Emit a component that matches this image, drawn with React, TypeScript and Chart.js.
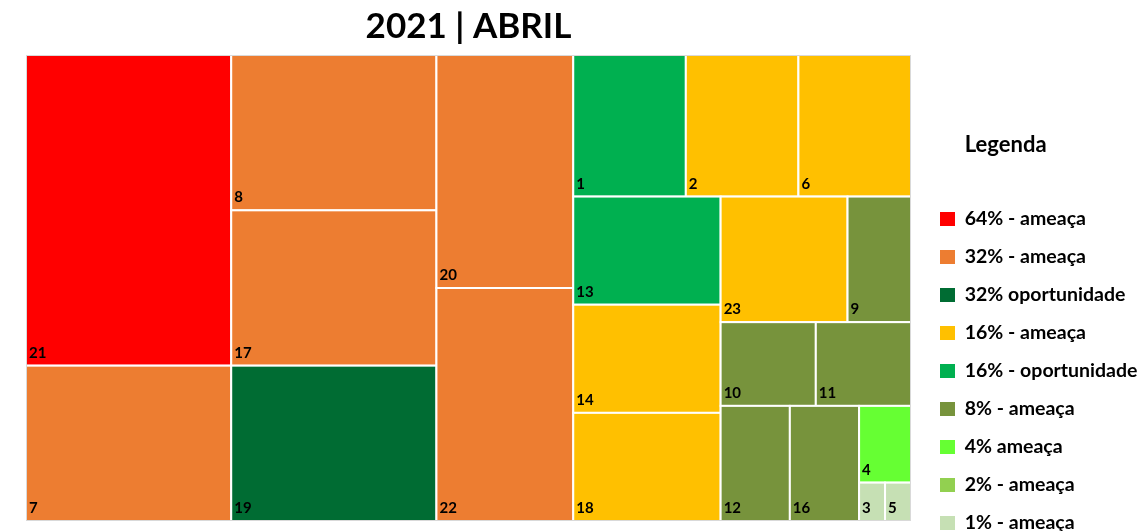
import React, { useEffect, useRef } from 'react';
import { Chart, registerables } from 'chart.js';

Chart.register(...registerables);

// ---------- data ----------
const chartTitle = '2021 | ABRIL';
const legendTitle = 'Legenda';

const categoryLabels = [
  '64% - ameaça',
  '32% - ameaça',
  '32% oportunidade',
  '16% - ameaça',
  '16% - oportunidade',
  '8% - ameaça',
  '4% ameaça',
  '2% - ameaça',
  '1% - ameaça',
];
const categoryColors = [
  '#FF0000',
  '#ED7D31',
  '#006C33',
  '#FFC000',
  '#00B050',
  '#77933C',
  '#66FF33',
  '#92D050',
  '#C6E0B4',
];

const itemLabels = ['1', '2', '3', '4', '5', '6', '7', '8', '9', '10', '11', '12', '13', '14', '16', '17', '18', '19', '20', '21', '22', '23'];
const itemValues = [16, 16, 1, 4, 1, 16, 32, 32, 8, 8, 8, 8, 16, 16, 8, 32, 16, 32, 32, 64, 32, 16];
const itemCategory = [4, 3, 8, 6, 8, 3, 1, 1, 5, 5, 5, 5, 4, 3, 5, 1, 3, 2, 1, 0, 1, 3];

// ---------- squarified layout (normalised to 0..1 for both axes) ----------
type Cell = { i: number; x: number; y: number; w: number; h: number };

function worst(row: number[], side: number): number {
  const s = row.reduce((a, b) => a + b, 0);
  const mx = Math.max(...row);
  const mn = Math.min(...row);
  return Math.max((side * side * mx) / (s * s), (s * s) / (side * side * mn));
}

function squarify(aspect: number): Cell[] {
  const order = itemValues
    .map((v, i) => i)
    .sort((a, b) => itemValues[b] - itemValues[a] || Number(itemLabels[a]) - Number(itemLabels[b]));
  const total = itemValues.reduce((a, b) => a + b, 0);
  let x = 0, y = 0, w = aspect, h = 1;
  const areas = order.map((i) => (itemValues[i] / total) * aspect);
  const out: Cell[] = [];
  let k = 0;
  while (k < order.length) {
    const side = Math.min(w, h);
    let row = [areas[k]];
    let j = k + 1;
    while (j < order.length) {
      const next = [...row, areas[j]];
      if (worst(next, side) <= worst(row, side)) {
        row = next;
        j++;
      } else break;
    }
    const sum = row.reduce((a, b) => a + b, 0);
    if (w >= h) {
      const cw = sum / h;
      let cy = y;
      row.forEach((a, n) => {
        const rh = a / cw;
        out.push({ i: order[k + n], x, y: cy, w: cw, h: rh });
        cy += rh;
      });
      x += cw;
      w -= cw;
    } else {
      const rh = sum / w;
      let cx = x;
      row.forEach((a, n) => {
        const rw = a / rh;
        out.push({ i: order[k + n], x: cx, y, w: rw, h: rh });
        cx += rw;
      });
      y += rh;
      h -= rh;
    }
    k = j;
  }
  return out.map((c) => ({ i: c.i, x: c.x / aspect, y: c.y, w: c.w / aspect, h: c.h }));
}

const FONT = 'Lato';

const treemapPlugin = {
  id: 'treemapCells',
  afterDatasetsDraw(chart: any) {
    const { ctx, chartArea, scales } = chart;
    const xs = scales.x;
    const ys = scales.y;
    const aspect = chartArea.width / chartArea.height;
    const cells = squarify(aspect);
    ctx.save();
    cells.forEach((c) => {
      const x0 = xs.getPixelForValue(c.x);
      const x1 = xs.getPixelForValue(c.x + c.w);
      const y0 = ys.getPixelForValue(c.y);
      const y1 = ys.getPixelForValue(c.y + c.h);
      const left = Math.min(x0, x1);
      const top = Math.min(y0, y1);
      const w = Math.abs(x1 - x0);
      const h = Math.abs(y1 - y0);
      ctx.fillStyle = categoryColors[itemCategory[c.i]];
      ctx.fillRect(left, top, w, h);
      ctx.strokeStyle = '#ffffff';
      ctx.lineWidth = 2;
      ctx.strokeRect(left, top, w, h);
      ctx.fillStyle = '#000000';
      ctx.font = `bold 15px ${FONT}`;
      ctx.textAlign = 'left';
      ctx.textBaseline = 'alphabetic';
      ctx.fillText(itemLabels[c.i], left + 3, top + h - 8);
    });
    ctx.strokeStyle = '#d9d9d9';
    ctx.lineWidth = 1;
    ctx.strokeRect(chartArea.left + 0.5, chartArea.top + 0.5, chartArea.width - 1, chartArea.height - 1);
    ctx.restore();
  },
  afterDraw(chart: any) {
    const lg = chart.legend;
    if (!lg) return;
    const lo = lg.options;
    const ctx = chart.ctx;
    const x = lg.left + lo.labels.padding + lo.labels.boxWidth + lo.labels.font.size / 2;
    const y = lg.top + lo.title.padding.top + (lo.title.font.size * 1.2) / 2;
    ctx.save();
    ctx.fillStyle = '#000000';
    ctx.font = `bold ${lo.title.font.size}px ${FONT}`;
    ctx.textAlign = 'left';
    ctx.textBaseline = 'middle';
    ctx.fillText(legendTitle, x, y);
    ctx.restore();
  },
};

export default function App() {
  const ref = useRef<HTMLCanvasElement | null>(null);
  useEffect(() => {
    if (!ref.current) return;
    const chart = new Chart(ref.current, {
      type: 'scatter',
      data: { datasets: [] },
      plugins: [treemapPlugin],
      options: {
        animation: false,
        responsive: false,
        events: [],
        layout: { padding: { left: 26, top: 0, right: 0, bottom: 0 } },
        scales: {
          x: {
            type: 'linear',
            min: 0,
            max: 1,
            display: true,
            ticks: { display: false },
            grid: { display: false },
            border: { display: false },
            afterFit: (s: any) => {
              s.height = 39;
            },
          },
          y: {
            type: 'linear',
            position: 'right',
            reverse: true,
            min: 0,
            max: 1,
            display: true,
            ticks: { display: false },
            grid: { display: false },
            border: { display: false },
            afterFit: (s: any) => {
              s.width = 10.5;
            },
          },
        },
        plugins: {
          tooltip: { enabled: false },
          title: {
            display: true,
            text: chartTitle,
            fullSize: false,
            color: '#000000',
            font: { family: FONT, size: 35, weight: 'bold' },
            padding: { top: 5.5, bottom: 7.5 },
          },
          legend: {
            display: true,
            position: 'right',
            align: 'start',
            maxWidth: 223.5,
            title: {
              display: true,
              text: '',
              font: { family: FONT, size: 22, weight: 'bold' },
              padding: { top: 131.8, bottom: 32.55 },
            },
            labels: {
              boxWidth: 15,
              boxHeight: 14,
              padding: 18.5,
              color: '#000000',
              font: { family: FONT, size: 19.5, weight: 'bold' },
              generateLabels: () =>
                categoryLabels.map((t, i) => ({
                  text: t,
                  fillStyle: categoryColors[i],
                  strokeStyle: categoryColors[i],
                  lineWidth: 0,
                  hidden: false,
                  index: i,
                  fontColor: '#000000',
                })),
            },
          },
        },
      } as any,
    });
    return () => chart.destroy();
  }, []);
  return (
    <div style={{ position: 'fixed', left: 0, top: 0, width: 1145, height: 560, background: '#fff' }}>
      <canvas ref={ref} width={1145} height={560} style={{ width: 1145, height: 560, display: 'block' }} />
    </div>
  );
}
